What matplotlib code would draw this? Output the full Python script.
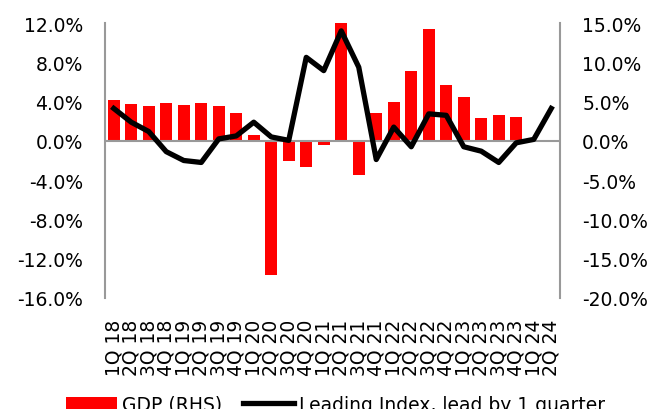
import matplotlib
matplotlib.use("Agg")
import matplotlib.pyplot as plt
from matplotlib.patches import Patch
from matplotlib.lines import Line2D
from matplotlib.ticker import FuncFormatter, MultipleLocator

quarters = ["1Q 18", "2Q 18", "3Q 18", "4Q 18", "1Q 19", "2Q 19", "3Q 19", "4Q 19",
            "1Q 20", "2Q 20", "3Q 20", "4Q 20", "1Q 21", "2Q 21", "3Q 21", "4Q 21",
            "1Q 22", "2Q 22", "3Q 22", "4Q 22", "1Q 23", "2Q 23", "3Q 23", "4Q 23",
            "1Q 24", "2Q 24"]
gdp_rhs = [5.2, 4.7, 4.4, 4.8, 4.6, 4.8, 4.4, 3.5, 0.8, -17.1, -2.6, -3.3, -0.5,
           15.3, -4.4, 3.6, 4.9, 8.9, 14.2, 7.1, 5.6, 2.9, 3.3, 3.0]
leading = [3.3, 1.9, 0.95, -1.1, -2.0, -2.2, 0.2, 0.5, 1.9, 0.4, 0.05, 8.5, 7.15,
           11.2, 7.5, -1.9, 1.4, -0.6, 2.75, 2.6, -0.6, -1.05, -2.2, -0.2, 0.15, 3.3]

FS = 13.5
plt.rcParams['font.family'] = ['DejaVu Sans']
plt.rcParams['font.size'] = FS

fig = plt.figure(figsize=(6.53, 4.10), dpi=100)
ax = fig.add_axes([105/653, 1-299/410, (560-105)/653, (299-24)/410])
ax2 = ax.twinx()

x = list(range(len(quarters)))
ax2.bar(x[:len(gdp_rhs)], gdp_rhs, width=0.68, color='#ff0000', zorder=2)
ax2.set_ylim(-20, 15)
ax2.yaxis.set_major_locator(MultipleLocator(5))
ax2.yaxis.set_major_formatter(FuncFormatter(lambda v, p: f"{v:.1f}%"))

ax.plot(x, leading, color='black', lw=3.8, solid_joinstyle='round', zorder=3)
ax.set_ylim(-16, 12)
ax.yaxis.set_major_locator(MultipleLocator(4))
ax.yaxis.set_major_formatter(FuncFormatter(lambda v, p: f"{v:.1f}%"))
ax.set_xlim(-0.5, len(quarters) - 0.5)
ax.set_zorder(ax2.get_zorder() + 1)
ax.patch.set_visible(False)

ax.axhline(0, color='#999999', lw=1.5, zorder=1)

ax.set_xticks(x)
ax.set_xticklabels(quarters, rotation=90)
ax.tick_params(axis='x', length=0, pad=15)
ax.tick_params(axis='y', length=0, pad=16)
ax2.tick_params(axis='y', length=0, pad=16)

for a in (ax, ax2):
    for s in ('top', 'bottom'):
        a.spines[s].set_visible(False)
    a.spines['left'].set_color('#999999')
    a.spines['right'].set_color('#999999')
    a.spines['left'].set_linewidth(1.5)
    a.spines['right'].set_linewidth(1.5)
ax.spines['right'].set_visible(False)
ax2.spines['left'].set_visible(False)

handles = [Patch(facecolor='#ff0000', edgecolor='none'),
           Line2D([0], [0], color='black', lw=3.8)]
fig.legend(handles, ["GDP (RHS)", "Leading Index, lead by 1 quarter"],
           loc='upper left', bbox_to_anchor=(66/653, 1-396/410), ncol=2,
           frameon=False, borderpad=0, borderaxespad=0, handlelength=2.7,
           handletextpad=0.3, columnspacing=1.1, handleheight=0.7)

fig.savefig("out.png", dpi=100)
